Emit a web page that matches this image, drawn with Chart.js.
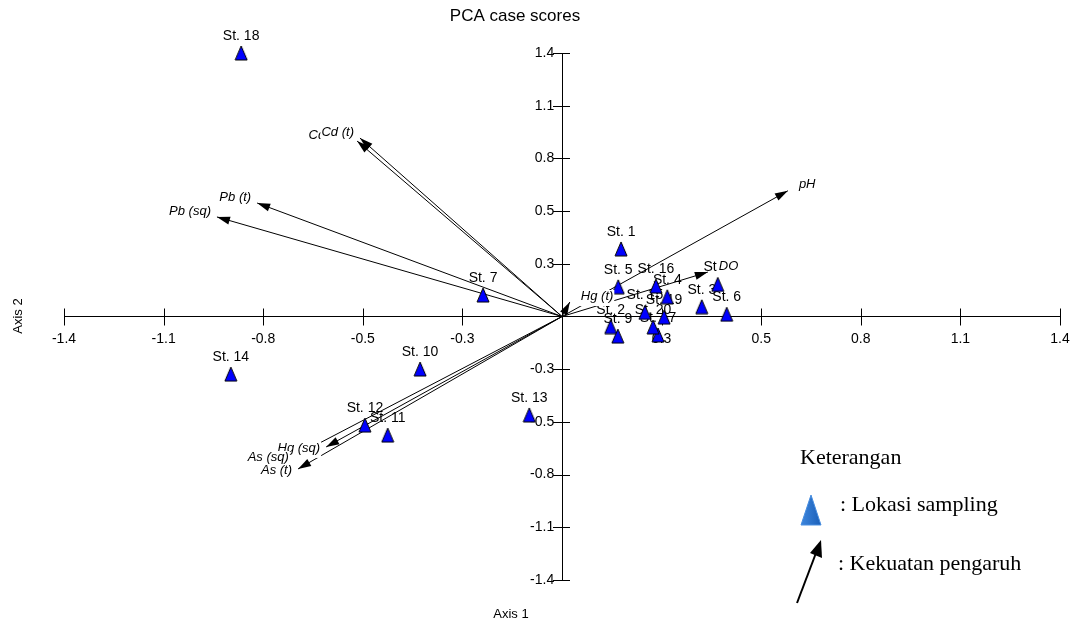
<!DOCTYPE html>
<html>
<head>
<meta charset="utf-8">
<title>PCA case scores</title>
<script src="https://cdn.jsdelivr.net/npm/chart.js@4.4.1/dist/chart.umd.min.js"></script>
<style>
  html, body { margin: 0; padding: 0; background: #fff; }
  canvas { display: block; }
</style>
</head>
<body>
<canvas id="pcaChart" width="1073" height="626"></canvas>
<script>
// Skor stasiun (Axis 1, Axis 2)
const stationNames = ["St. 1", "St. 2", "St. 3", "St. 4", "St. 5", "St. 6", "St. 7", "St. 8", "St. 9", "St. 10",
                      "St. 11", "St. 12", "St. 13", "St. 14", "St. 15", "St. 16", "St. 17", "St. 18", "St. 19", "St. 20"];
const stationAxis1 = [0.166, 0.137, 0.393, 0.296, 0.158, 0.463, -0.222, 0.438, 0.157, -0.399,
                      -0.490, -0.554, -0.092, -0.931, 0.233, 0.264, 0.270, -0.902, 0.287, 0.256];
const stationAxis2 = [0.359, -0.054, 0.052, 0.105, 0.158, 0.012, 0.114, 0.171, -0.104, -0.279,
                      -0.630, -0.577, -0.523, -0.306, 0.022, 0.162, -0.098, 1.400, -0.003, -0.056];

// Vektor variabel (kekuatan pengaruh)
const variableNames = ["pH", "DO", "Hg (t)", "Cd (sq)", "Cd (t)", "Pb (t)", "Pb (sq)", "Hg (sq)", "As (sq)", "As (t)"];
const variableAxis1 = [0.635, 0.410, 0.022, -0.576, -0.568, -0.857, -0.970, -0.663, -0.751, -0.742];
const variableAxis2 = [0.668, 0.236, 0.077, 0.932, 0.948, 0.603, 0.529, -0.693, -0.741, -0.810];

// Tick sumbu
const tickValues = [-1.4, -1.12, -0.84, -0.56, -0.28, 0.28, 0.56, 0.84, 1.12, 1.4];
const tickLabels = ["-1.4", "-1.1", "-0.8", "-0.5", "-0.3", "0.3", "0.5", "0.8", "1.1", "1.4"];

const sansFont = "'Liberation Sans', Arial, sans-serif";
const serifFont = "'Liberation Serif', 'Times New Roman', serif";

// Gambar segitiga untuk titik stasiun
function makeTriangle(w, h, fill, stroke) {
    const c = document.createElement("canvas");
    c.width = w + 2;
    c.height = h + 2;
    const g = c.getContext("2d");
    g.beginPath();
    g.moveTo(c.width / 2, 1);
    g.lineTo(c.width - 1, c.height - 1);
    g.lineTo(1, c.height - 1);
    g.closePath();
    g.fillStyle = fill;
    g.fill();
    if (stroke) {
        g.strokeStyle = stroke;
        g.lineWidth = 1;
        g.stroke();
    }
    return c;
}
const stationMarker = makeTriangle(12, 14, "#0000ff", "#000000");

const stationData = stationNames.map((name, i) => ({ x: stationAxis1[i], y: stationAxis2[i] }));

const vectorDatasets = variableNames.map((name, i) => ({
    label: name,
    data: [{ x: 0, y: 0 }, { x: variableAxis1[i], y: variableAxis2[i] }],
    showLine: true,
    clip: false,
    borderColor: "#000000",
    borderWidth: 1,
    pointRadius: 0,
    pointHoverRadius: 0,
    isVector: true
}));

// Garis tick yang memotong sumbu dan label stasiun
const axisTicksPlugin = {
    id: "axisTicks",
    beforeDatasetsDraw(chart) {
        const ctx = chart.ctx;
        const xs = chart.scales.x;
        const ys = chart.scales.y;
        const x0 = xs.getPixelForValue(0);
        const y0 = ys.getPixelForValue(0);
        ctx.save();
        ctx.strokeStyle = "#000";
        ctx.lineWidth = 1;
        ctx.beginPath();
        tickValues.forEach(v => {
            const px = Math.round(xs.getPixelForValue(v)) + 0.5;
            ctx.moveTo(px, y0 - 8);
            ctx.lineTo(px, y0 + 9);
            const py = Math.round(ys.getPixelForValue(v)) + 0.5;
            ctx.moveTo(x0 - 9, py);
            ctx.lineTo(x0 + 8, py);
        });
        ctx.stroke();

        // label stasiun (di bawah segitiga)
        const meta = chart.getDatasetMeta(0);
        ctx.fillStyle = "#000";
        ctx.font = "14px " + sansFont;
        ctx.textAlign = "center";
        ctx.textBaseline = "middle";
        meta.data.forEach((pt, i) => {
            ctx.fillText(stationNames[i], pt.x, pt.y - 17);
        });
        ctx.restore();
    },
    afterDatasetsDraw(chart) {
        const ctx = chart.ctx;
        ctx.save();
        chart.data.datasets.forEach((ds, di) => {
            if (!ds.isVector) return;
            const meta = chart.getDatasetMeta(di);
            const p0 = meta.data[0];
            const p1 = meta.data[1];
            const ang = Math.atan2(p1.y - p0.y, p1.x - p0.x);
            const len = 13, half = 4;
            ctx.fillStyle = "#000";
            ctx.beginPath();
            ctx.moveTo(p1.x, p1.y);
            ctx.lineTo(p1.x - len * Math.cos(ang) + half * Math.sin(ang), p1.y - len * Math.sin(ang) - half * Math.cos(ang));
            ctx.lineTo(p1.x - len * Math.cos(ang) - half * Math.sin(ang), p1.y - len * Math.sin(ang) + half * Math.cos(ang));
            ctx.closePath();
            ctx.fill();
        });
        // label variabel dengan latar putih
        ctx.font = "italic 13px " + sansFont;
        ctx.textBaseline = "middle";
        const x0 = chart.scales.x.getPixelForValue(0);
        const y0 = chart.scales.y.getPixelForValue(0);
        chart.data.datasets.forEach((ds, di) => {
            if (!ds.isVector) return;
            const p1 = chart.getDatasetMeta(di).data[1];
            const w = ctx.measureText(ds.label).width;
            const left = p1.x < x0;
            const tx = left ? p1.x - 6 - w : p1.x + 11;
            const ty = p1.y < y0 ? p1.y - 6 : p1.y + 1;
            ctx.fillStyle = "#fff";
            ctx.fillRect(tx - 1, ty - 6, w + 2, 16);
            ctx.fillStyle = "#000";
            ctx.textAlign = "left";
            ctx.fillText(ds.label, tx, ty);
        });
        ctx.restore();
    },
    afterDraw(chart) {
        const ctx = chart.ctx;
        ctx.save();
        // judul dan nama sumbu
        ctx.fillStyle = "#000";
        ctx.textAlign = "center";
        ctx.textBaseline = "middle";
        ctx.font = "17px " + sansFont;
        ctx.fillText("PCA case scores", 515, 16);
        ctx.font = "13px " + sansFont;
        ctx.fillText("Axis 1", 511, 614);
        ctx.save();
        ctx.translate(18, 316);
        ctx.rotate(-Math.PI / 2);
        ctx.fillText("Axis 2", 0, 0);
        ctx.restore();

        // keterangan
        ctx.textAlign = "left";
        ctx.font = "22px " + serifFont;
        ctx.fillText("Keterangan", 800, 458);
        ctx.fillText(": Lokasi sampling", 840, 505);
        ctx.fillText(": Kekuatan pengaruh", 838, 564);
        const grad = ctx.createLinearGradient(801, 0, 821, 0);
        grad.addColorStop(0, "#3d86dd");
        grad.addColorStop(1, "#1b5fb8");
        ctx.fillStyle = grad;
        ctx.beginPath();
        ctx.moveTo(811, 495);
        ctx.lineTo(821, 525);
        ctx.lineTo(801, 525);
        ctx.closePath();
        ctx.fill();
        ctx.strokeStyle = "#4a8fe0";
        ctx.stroke();
        // panah keterangan
        ctx.strokeStyle = "#000";
        ctx.lineWidth = 2;
        ctx.beginPath();
        ctx.moveTo(797, 603);
        ctx.lineTo(816, 553);
        ctx.stroke();
        ctx.fillStyle = "#000";
        ctx.beginPath();
        ctx.moveTo(821, 540);
        ctx.lineTo(822, 558);
        ctx.lineTo(810, 553);
        ctx.closePath();
        ctx.fill();
        ctx.restore();
    }
};

const ctx = document.querySelector("#pcaChart").getContext("2d");
new Chart(ctx, {
    type: "scatter",
    data: {
        datasets: [{
            label: "Lokasi sampling",
            data: stationData,
            clip: false,
            pointStyle: stationMarker,
            pointRadius: 7,
            pointHoverRadius: 7
        }].concat(vectorDatasets)
    },
    options: {
        responsive: false,
        animation: false,
        layout: { padding: { left: 64, right: 13, top: 53, bottom: 46 } },
        plugins: {
            legend: { display: false },
            tooltip: { enabled: false },
            title: { display: false }
        },
        scales: {
            x: {
                type: "linear",
                min: -1.4,
                max: 1.4,
                position: { y: 0 },
                afterBuildTicks: scale => { scale.ticks = tickValues.map(v => ({ value: v })); },
                grid: { display: true, drawOnChartArea: false, drawTicks: true, tickLength: 11, color: "rgba(0,0,0,0)" },
                border: { display: true, color: "#000", width: 1 },
                ticks: {
                    autoSkip: false,
                    maxRotation: 0,
                    padding: 3,
                    color: "#000",
                    font: { family: sansFont, size: 14 },
                    callback: (value, index) => tickLabels[index]
                }
            },
            y: {
                type: "linear",
                min: -1.4,
                max: 1.4,
                position: { x: 0 },
                afterBuildTicks: scale => { scale.ticks = tickValues.map(v => ({ value: v })); },
                grid: { display: false, drawTicks: false },
                border: { display: true, color: "#000", width: 1 },
                ticks: {
                    autoSkip: false,
                    padding: 0,
                    color: "#000",
                    font: { family: sansFont, size: 14 },
                    // label berada di kiri garis tick
                    callback: (value, index) => tickLabels[index] + "  "
                }
            }
        }
    },
    plugins: [axisTicksPlugin]
});
</script>
</body>
</html>
